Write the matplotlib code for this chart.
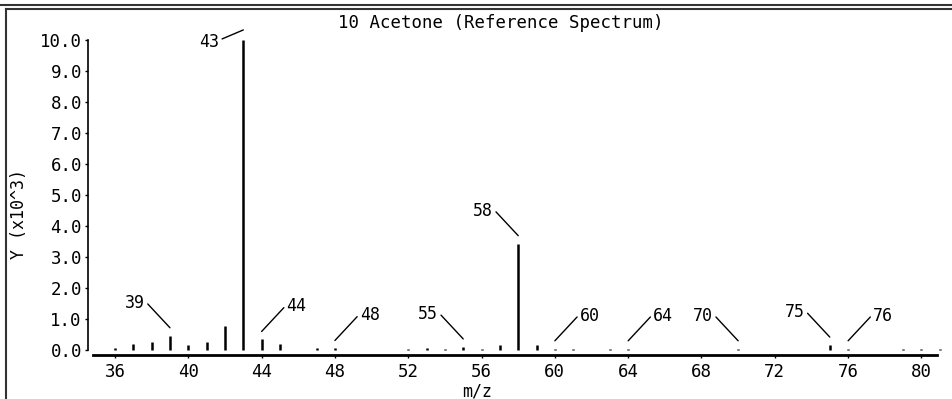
import matplotlib
matplotlib.use("Agg")
import matplotlib.pyplot as plt
from matplotlib.lines import Line2D
from matplotlib.transforms import ScaledTranslation

# spectrum peaks (m/z, intensity in x10^3)
mz = [36, 37, 38, 39, 40, 41, 42, 43, 44, 45, 47, 48, 52, 53, 54, 55, 56, 57,
      58, 59, 60, 61, 63, 64, 70, 75, 76, 79, 80, 81]
intensity = [0.08, 0.21, 0.27, 0.46, 0.15, 0.27, 0.77, 10.0, 0.34, 0.21, 0.05,
             0.05, 0.04, 0.08, 0.04, 0.10, 0.04, 0.16, 3.43, 0.16, 0.04, 0.04,
             0.04, 0.04, 0.04, 0.16, 0.04, 0.04, 0.04, 0.04]
labelled = [39, 43, 44, 48, 55, 58, 60, 64, 70, 75, 76]
x_ticks = [36, 40, 44, 48, 52, 56, 60, 64, 68, 72, 76, 80]
y_ticks = [0, 1, 2, 3, 4, 5, 6, 7, 8, 9, 10]
title = "10 Acetone (Reference Spectrum)"

# label leader lines: (dx, dy, gap) in pixels
left = (-25, 25, 8)
right = (25, 25, 8)
label_offsets = {39: left, 43: (-24, -12, 10), 44: right, 48: right, 55: left,
                 58: left, 60: right, 64: right, 70: left, 75: left, 76: right}

W, H = 952, 399
plt.rcParams['font.family'] = ['DejaVu Sans Mono', 'DejaVu Sans']
fig = plt.figure(figsize=(W / 100, H / 100), dpi=100)

# axes placed in pixel coords
ax = fig.add_axes([93 / W, (H - 355) / H, 844 / W, 316 / H])
ax.set_xlim(34.8, 80.85)
ax.set_ylim(-0.16, 10.03)

ax.vlines(mz, 0, intensity, color="black", lw=1.8, clip_on=False)

for m, h in zip(mz, intensity):
    if m not in labelled:
        continue
    dx, dy, gap = label_offsets[m]
    trans = ax.transData + ScaledTranslation(0, gap / 100, fig.dpi_scale_trans)
    ax.annotate(str(m), xy=(m, h), xycoords=trans,
                xytext=(dx, dy), textcoords="offset pixels",
                ha="right" if dx < 0 else "left", va="center", fontsize=12,
                arrowprops=dict(arrowstyle="-", lw=1, color="black",
                                shrinkA=0, shrinkB=0,
                                relpos=(1, 0.6) if dx < 0 else (0, 0.6)),
                annotation_clip=False)

ax.set_xticks(x_ticks)
ax.set_xticklabels([str(t) for t in x_ticks])
ax.set_yticks(y_ticks)
ax.set_yticklabels([f"{t:.1f}" for t in y_ticks])
ax.tick_params(axis="x", direction="out", length=2.5, width=1, pad=3.5, labelsize=12.5)
ax.tick_params(axis="y", direction="out", length=2.2, width=1, pad=2.5, labelsize=12.5)

for s in ["top", "right"]:
    ax.spines[s].set_visible(False)
ax.spines["left"].set_position(("outward", 3.3))
ax.spines["left"].set_bounds(0, 10)
ax.spines["left"].set_linewidth(1.2)
ax.spines["bottom"].set_linewidth(2)

fig.text(501 / W, (H - 23) / H, title, ha="center", va="center", fontsize=12.5)
fig.text(19 / W, (H - 214) / H, "Y (x10^3)", rotation=90, ha="center",
         va="center", fontsize=12)
fig.text(477 / W, (H - 391) / H, "m/z", ha="center", va="center", fontsize=12)

# panel borders
def px_line(x0, y0, x1, y1, lw=1.5, color="black"):
    fig.add_artist(Line2D([x0 / W, x1 / W], [1 - y0 / H, 1 - y1 / H],
                          transform=fig.transFigure, lw=lw, color=color))

px_line(0, 4.5, W, 4.5, lw=1.5, color="#333333")
px_line(5.5, 9, W, 9, lw=1.5, color="#333333")
px_line(5.5, 9, 5.5, H, lw=1.5, color="#333333")

fig.savefig("out.png", dpi=100)
